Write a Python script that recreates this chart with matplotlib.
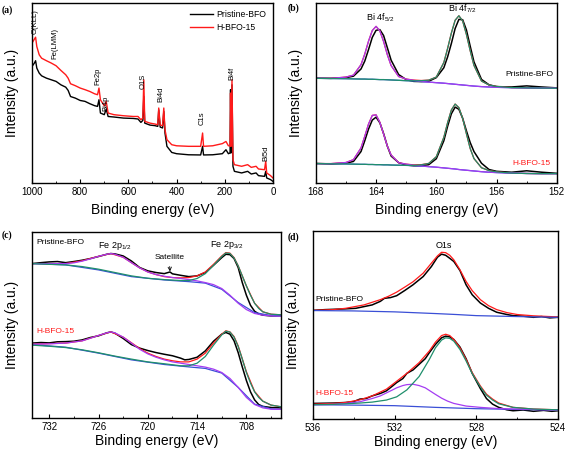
import numpy as np
import matplotlib
matplotlib.use('Agg')
import matplotlib.pyplot as plt
from matplotlib.ticker import MultipleLocator

plt.rcParams['font.family'] = ['Liberation Sans', 'DejaVu Sans']
plt.rcParams['mathtext.fontset'] = 'custom'
plt.rcParams['mathtext.rm'] = 'Liberation Sans'
plt.rcParams['mathtext.it'] = 'Liberation Sans'

C_BLACK = 'black'
C_RED = '#ff1a1a'
C_PURPLE = '#a43cf2'
C_GREEN = '#1f8f6c'
C_BLUE = '#3a4fd6'

# ---------------- (a) survey ----------------
a_x_pristine = [1000, 990, 985, 980, 970, 960, 940, 920, 900, 880, 860, 850, 840, 820, 800, 780, 760, 740, 728, 722,
                716, 700, 692, 684, 660, 620, 580, 560, 548, 540, 536, 532, 510, 490, 478, 474, 468, 458, 453, 448,
                440, 420, 400, 350, 300, 292, 288, 250, 210, 195, 185, 178, 176, 174, 170, 166, 160, 130, 105, 90,
                70, 60, 35, 30, 26, 10, 0]
a_y_pristine = [64.8, 66.7, 68.0, 63.9, 61.1, 59.6, 58.3, 57.4, 56.5, 54.6, 53.3, 51.5, 48.1, 47.2, 45.9, 45.4, 44.1, 43.0, 42.6, 46.3,
                38.9, 38.0, 41.1, 37.0, 36.7, 36.1, 35.9, 35.6, 33.7, 34.8, 48.1, 33.3, 32.2, 31.9, 31.5, 40.7, 31.1, 30.6, 39.8, 27.8,
                20.4, 17.0, 16.3, 15.7, 15.6, 20.4, 15.6, 15.7, 16.3, 18.5, 16.3, 16.7, 51.9, 16.7, 54.6, 9.3, 6.5, 5.6, 6.5, 5.0,
                5.6, 4.1, 3.7, 6.5, 2.8, 1.9, 0.9]
a_x_hbfo = a_x_pristine
a_y_hbfo = [77.8, 80.0, 81.1, 75.9, 71.3, 69.4, 68.0, 66.7, 65.2, 62.6, 60.2, 58.3, 55.2, 54.1, 52.8, 51.9, 50.9, 49.6, 49.1, 52.8,
            46.3, 42.9, 45.4, 38.9, 38.0, 37.4, 37.0, 37.0, 35.2, 36.1, 57.4, 34.3, 33.3, 32.8, 32.4, 41.7, 32.2, 31.9, 41.7, 29.6,
            24.1, 21.3, 20.7, 20.4, 20.4, 27.8, 20.4, 20.7, 21.9, 23.1, 20.7, 20.7, 50.0, 20.4, 57.4, 13.0, 10.2, 9.3, 10.2, 8.7,
            9.3, 7.8, 7.4, 12.0, 5.6, 4.1, 2.8]
a_labels = ['O(KLL)', 'Fe(LMM)', 'Fe2p', 'Bi4p', 'O1S', 'Bi4d', 'C1s', 'Bi4f', 'Bi5d']
a_label_x = [985, 905, 728, 692, 540, 466, 295, 170, 30]
a_label_y = [83, 69, 54.6, 40, 52, 45, 32, 57.4, 12]

# ---------------- (b) Bi 4f ----------------
b_x = [168, 167, 166, 165.5, 165, 164.75, 164.5, 164.25, 164, 163.75, 163.5, 163.25, 163, 162.5, 162, 161.5, 161,
       160.5, 160, 159.5, 159.25, 159, 158.75, 158.5, 158.25, 158, 157.75, 157.5, 157, 156.5, 156, 155, 154, 153, 152]
b_base_up = [58.2, 58.1, 58.0, 57.9, 57.8, 57.8, 57.7, 57.7, 57.6, 57.5, 57.5, 57.4, 57.3, 57.1, 56.9, 56.7, 56.4,
             56.1, 55.8, 55.5, 55.3, 55.1, 54.9, 54.7, 54.5, 54.3, 54.1, 53.9, 53.6, 53.4, 53.2, 53.0, 52.9, 52.8, 52.7]
b_p52_up = [0, 0.1, 0.9, 2.1, 8.0, 13.9, 21.2, 27.1, 29.5, 27.1, 21.2, 13.9, 8.0, 2.1, 0.9, 0.4, 0.1,
            0, 0, 0, 0, 0, 0, 0, 0, 0, 0, 0, 0, 0, 0, 0, 0, 0, 0]
b_p72_up = [0, 0, 0, 0, 0, 0, 0, 0, 0, 0, 0, 0, 0, 0, 0, 0.15, 0.5,
            1.1, 3.1, 11.5, 19.5, 28.3, 35.6, 38.3, 35.6, 28.3, 19.5, 11.5, 3.1, 1.1, 0.5, 0.05, 0, 0, 0]
b_data_up = [58.3, 58.2, 58.6, 59.4, 63.4, 67.8, 74.2, 81.0, 84.9, 85.3, 82.0, 75.2, 68.3, 60.3, 57.5, 56.5, 56.4,
             56.6, 58.6, 64.1, 70.1, 77.6, 85.9, 91.0, 90.8, 85.1, 76.1, 67.4, 57.6, 54.6, 53.6, 53.4, 54.0, 53.4, 52.9]
b_base_lo = [10.8, 10.7, 10.6, 10.5, 10.4, 10.4, 10.3, 10.3, 10.2, 10.2, 10.1, 10.1, 10.0, 9.9, 9.8, 9.6, 9.4,
             9.1, 8.8, 8.4, 8.2, 8.0, 7.8, 7.5, 7.3, 7.1, 6.9, 6.7, 6.3, 6.0, 5.8, 5.5, 5.3, 5.2, 5.2]
b_p52_lo = [0, 0.1, 0.8, 2.5, 9.1, 15.6, 22.5, 27.3, 27.7, 23.6, 17.1, 10.4, 5.6, 1.4, 0.7, 0.3, 0.1,
            0, 0, 0, 0, 0, 0, 0, 0, 0, 0, 0, 0, 0, 0, 0, 0, 0, 0]
b_p72_lo = [0, 0, 0, 0, 0, 0, 0, 0, 0, 0, 0, 0, 0, 0, 0, 0.2, 0.7,
            1.8, 5.8, 17.0, 25.3, 32.6, 36.1, 34.4, 28.6, 20.3, 12.3, 6.9, 2.2, 0.9, 0.4, 0, 0, 0, 0]
b_data_lo = [10.9, 10.6, 11.0, 12.0, 17.5, 23.5, 30.0, 35.0, 36.6, 33.5, 27.5, 20.5, 15.0, 11.3, 10.0, 9.6, 9.6,
             10.2, 13.5, 23.5, 31.5, 38.5, 42.2, 41.0, 36.0, 29.0, 22.5, 17.5, 11.0, 7.5, 6.5, 6.0, 6.8, 6.0, 5.4]

# ---------------- (c) Fe 2p ----------------
c_x_data_up = [734.1, 733, 732, 731, 730, 729, 728, 727, 726, 725, 724.5, 724, 723, 722, 721, 720, 719, 718, 717.3,
               717, 716, 715, 714, 713, 712, 711, 710.5, 710, 709.5, 709, 708.5, 708, 707.5, 707, 706.5, 706, 705, 703.8]
c_y_data_up = [83.0, 83.5, 83.9, 84.1, 83.5, 84.1, 84.8, 85.7, 86.8, 88.0, 88.4, 88.2, 87.1, 84.4, 80.9, 79.1, 78.2, 77.6, 78.5,
               77.5, 76.7, 76.0, 76.4, 78.2, 82.1, 86.2, 88.0, 87.8, 85.7, 80.9, 72.8, 66.0, 60.6, 57.4, 56.0, 55.3, 54.9, 54.9]
c_x_purple_up = [734.1, 732, 730, 729, 728, 727, 726, 725, 724.5, 724, 723, 722, 721, 720, 719, 718, 717, 716, 715, 714,
                 713, 712, 711, 710, 709, 708, 707, 706, 705, 703.8]
c_y_purple_up = [83.0, 83.0, 83.0, 83.4, 84.3, 85.5, 86.9, 88.0, 88.4, 88.0, 86.4, 83.5, 80.7, 78.5, 77.1, 76.2, 75.5, 75.0, 74.4, 73.7,
                 72.8, 71.7, 69.6, 66.0, 61.7, 58.3, 56.2, 55.3, 54.9, 54.7]
c_x_green_up = [734.1, 732, 730, 728, 726, 724, 722, 720, 718, 716, 715, 714, 713, 712, 711, 710.5, 710, 709.5, 709,
                708.5, 708, 707.5, 707, 706.5, 706, 705, 703.8]
c_y_green_up = [83.0, 82.6, 82.3, 81.4, 80.0, 78.2, 76.4, 75.1, 74.4, 73.9, 73.9, 75.0, 77.6, 82.1, 86.8, 88.7, 88.4, 86.0, 81.8,
                76.4, 71.0, 66.0, 61.7, 58.9, 57.1, 55.8, 55.5]
c_x_red_up = [734.1, 730, 728, 726, 724.5, 723, 722, 721, 720, 719, 718, 717, 716, 715, 714, 713, 712, 711, 710.5, 710,
              709.5, 709, 708, 707, 706, 705, 703.8]
c_y_red_up = [83.0, 83.0, 84.5, 86.9, 88.4, 86.4, 83.5, 80.7, 78.5, 77.1, 76.0, 75.5, 75.3, 75.5, 76.4, 78.5, 82.6, 87.1, 88.9, 88.6,
              86.2, 81.8, 71.0, 61.7, 57.1, 55.8, 55.5]
c_x_blue_up = [734.1, 730, 726, 722, 718, 715, 713, 711, 709, 707, 705, 703.8]
c_y_blue_up = [83.0, 82.3, 79.6, 76.0, 74.2, 73.3, 72.5, 69.2, 62.1, 56.7, 55.1, 54.9]

c_x_data_lo = [734.1, 733, 732, 731, 730, 729, 728, 727, 726, 725, 724.5, 724, 723, 722, 721, 720, 719, 718, 717, 716,
               715.5, 715, 714, 713, 712, 711, 710.5, 710, 709.5, 709, 708.5, 708, 707.5, 707, 706.5, 706, 705, 703.8]
c_y_data_lo = [40.3, 40.6, 40.4, 41.0, 41.1, 41.3, 42.0, 43.3, 44.2, 45.8, 46.3, 45.6, 42.8, 39.5, 37.6, 36.3, 35.2, 34.3, 33.5, 32.2,
               31.3, 31.5, 32.7, 36.1, 41.3, 45.1, 46.0, 45.1, 41.5, 35.2, 27.5, 20.2, 14.1, 9.8, 7.3, 6.3, 5.7, 5.5]
c_x_purple_lo = c_x_purple_up
c_y_purple_lo = [39.7, 39.9, 40.3, 40.9, 41.5, 42.9, 44.4, 45.8, 46.3, 45.8, 43.5, 40.3, 37.0, 34.5, 32.7, 31.3, 30.2, 29.5, 28.8, 28.1,
                 27.4, 26.3, 24.5, 21.3, 16.5, 11.1, 7.3, 5.5, 4.8, 4.7]
c_x_green_lo = [734.1, 732, 730, 728, 726, 724, 722, 720, 718, 716, 715, 714, 713, 712, 711, 710.5, 710, 709.5, 709,
                708.5, 708, 707.5, 707, 706.5, 706, 705, 703.8]
c_y_green_lo = [39.2, 38.6, 37.9, 36.7, 35.1, 33.3, 31.7, 30.2, 29.2, 28.1, 28.1, 29.5, 33.1, 39.2, 44.7, 46.7, 46.2, 43.5, 38.5,
                31.7, 24.5, 18.8, 14.1, 11.1, 9.1, 7.0, 6.1]
c_x_red_lo = [734.1, 730, 728, 726, 724.5, 723, 722, 721, 720, 719, 718, 717, 716, 715, 714, 713, 712, 711, 710.5, 710,
              709.5, 709, 708, 707, 706, 705, 703.8]
c_y_red_lo = [39.7, 40.3, 41.5, 44.4, 46.3, 43.5, 40.5, 37.4, 34.9, 33.1, 31.7, 30.8, 30.2, 30.2, 31.7, 34.9, 40.3, 45.1, 46.9, 46.3,
              43.8, 38.8, 24.9, 14.3, 9.1, 7.0, 6.1]
c_x_blue_lo = [734.1, 730, 726, 722, 718, 715, 713, 711, 709, 707, 705, 703.8]
c_y_blue_lo = [39.5, 38.1, 34.9, 31.3, 28.8, 27.5, 26.7, 24.2, 16.5, 7.5, 5.0, 4.7]

# ---------------- (d) O 1s ----------------
d_x_data_up = [536, 535.4, 534.4, 533.9, 533.5, 533.1, 532.7, 532.5, 532.2, 531.9, 531.5, 531.1, 530.6, 530.2, 529.9, 529.7,
               529.5, 529.3, 529.1, 528.8, 528.5, 528.2, 527.8, 527.4, 527.0, 526.5, 526.2, 525.7, 525.2, 524.8, 524.4, 524]
d_y_data_up = [57.8, 58.2, 58.6, 58.9, 59.8, 60.7, 62.6, 64.2, 64.6, 65.6, 68.4, 71.4, 75.8, 81.1, 86.1, 87.7,
               87.1, 85.5, 83.8, 79.0, 71.4, 66.1, 61.7, 58.9, 56.8, 55.6, 55.0, 54.7, 54.1, 54.5, 53.8, 54.1]
d_x_red_up = [536, 535, 534.4, 533.5, 532.7, 532.3, 531.9, 531.5, 531.1, 530.6, 530.2, 529.9, 529.7, 529.5, 529.3, 529.1,
              528.8, 528.5, 528.2, 527.8, 527.4, 527.0, 526.5, 526.0, 525.2, 524]
d_y_red_up = [57.8, 58.2, 58.9, 60.7, 63.5, 65.3, 67.5, 70.2, 73.0, 77.6, 82.9, 86.8, 88.7, 88.5, 87.1, 84.7,
              79.4, 73.2, 68.3, 63.5, 60.3, 58.2, 56.6, 55.6, 54.9, 54.3]
d_x_blue_up = [536, 534, 532, 530, 529, 528, 526, 524]
d_y_blue_up = [57.7, 57.5, 57.0, 56.1, 55.6, 55.0, 54.5, 54.1]

d_x_data_lo = [536, 535, 534.4, 534, 533.7, 533.4, 533.1, 532.7, 532.4, 532.1, 531.9, 531.6, 531.4, 531.1, 530.8, 530.5,
               530.3, 530.0, 529.7, 529.5, 529.3, 529.1, 528.8, 528.5, 528.2, 527.8, 527.5, 527.2, 526.9, 526.5, 526.2,
               525.7, 525.2, 524.7, 524.3, 524]
d_y_data_lo = [8.3, 8.5, 8.8, 9.3, 10.6, 10.9, 12.3, 13.6, 15.0, 17.6, 19.4, 21.5, 24.3, 26.1, 29.1, 32.1,
               35.3, 39.7, 43.2, 44.1, 43.7, 42.3, 38.3, 32.1, 24.3, 16.2, 10.9, 7.9, 6.2, 4.9, 4.4,
               4.8, 4.1, 4.6, 4.1, 4.4]
d_x_fit_lo = [536, 535, 534.4, 533.7, 533.1, 532.4, 531.9, 531.4, 530.8, 530.3, 530.0, 529.7, 529.5, 529.3, 529.1, 528.8,
              528.5, 528.2, 527.8, 527.5, 527.2, 526.9, 526.2, 525.2, 524]
d_y_red_lo = [7.9, 8.3, 8.8, 10.2, 12.3, 15.9, 20.1, 24.3, 30.0, 36.2, 40.9, 44.4, 45.1, 44.4, 42.3, 37.9,
              31.7, 24.7, 17.6, 13.2, 10.6, 8.5, 6.2, 5.3, 4.9]
d_y_green_lo = [7.6, 7.8, 8.1, 8.5, 9.0, 10.1, 11.8, 15.5, 22.6, 31.7, 37.9, 42.0, 43.2, 42.9, 41.4, 37.0,
                30.9, 24.2, 17.1, 12.7, 10.1, 8.1, 6.2, 5.3, 4.9]
d_x_purple_lo = [536, 535, 534.4, 533.7, 533.1, 532.7, 532.4, 532.1, 531.9, 531.6, 531.4, 531.1, 530.8, 530.5, 530.3, 530.0,
                 529.7, 529.4, 529.1, 528.8, 528.5, 527.8, 527, 526, 524]
d_y_purple_lo = [7.6, 7.8, 8.3, 9.2, 10.9, 12.3, 13.9, 15.5, 16.6, 17.8, 18.3, 18.5, 17.8, 16.6, 15.2, 13.1,
                 11.1, 9.5, 8.3, 7.6, 6.9, 6.2, 5.6, 5.3, 4.8]
d_x_blue_lo = [536, 534, 532, 530, 528, 526, 524]
d_y_blue_lo = [7.6, 7.4, 7.1, 6.2, 5.5, 5.1, 4.8]


def style_axis(ax, xlim, major, minor, xpad=4):
    ax.set_xlim(xlim)
    ax.set_ylim(0, 100)
    ax.set_yticks([])
    ax.xaxis.set_major_locator(MultipleLocator(major))
    ax.xaxis.set_minor_locator(MultipleLocator(minor))
    ax.tick_params(axis='x', which='major', direction='in', length=3, width=0.8, labelsize=7, pad=3)
    ax.tick_params(axis='x', which='minor', direction='in', length=1.6, width=0.6)
    for s in ax.spines.values():
        s.set_linewidth(1.0)
    ax.set_xlabel('Binding energy (eV)', fontsize=10, labelpad=xpad)
    ax.set_ylabel('Intensity (a.u.)', fontsize=10, labelpad=9)


fig = plt.figure(figsize=(5.67, 4.53), dpi=100)
ax_a = fig.add_axes([0.0564, 0.596, 0.425, 0.397])
ax_b = fig.add_axes([0.557, 0.596, 0.425, 0.397])
ax_c = fig.add_axes([0.0564, 0.077, 0.439, 0.411])
ax_d = fig.add_axes([0.552, 0.075, 0.432, 0.415])

# (a)
ax_a.plot(a_x_pristine, a_y_pristine, color=C_BLACK, lw=1.0, label='Pristine-BFO')
ax_a.plot(a_x_hbfo, a_y_hbfo, color=C_RED, lw=1.0, label='H-BFO-15')
for t, x, y in zip(a_labels, a_label_x, a_label_y):
    ax_a.text(x, y, t, rotation=90, ha='center', va='bottom', fontsize=5.5)
style_axis(ax_a, (1000, 0), 200, 100)
ax_a.legend(loc='upper right', frameon=False, fontsize=6.2, handlelength=2.6, borderaxespad=0.4,
            labelspacing=0.5, handletextpad=0.4)

# (b)
b_base_up = np.array(b_base_up)
b_base_lo = np.array(b_base_lo)
for base, p52, p72, data in [(b_base_up, b_p52_up, b_p72_up, b_data_up),
                             (b_base_lo, b_p52_lo, b_p72_lo, b_data_lo)]:
    p52 = np.array(p52)
    p72 = np.array(p72)
    ax_b.plot(b_x, data, color=C_BLACK, lw=1.1)
    ax_b.plot(b_x, base + p52 + p72, color=C_RED, lw=0.9)
    ax_b.plot(b_x, base, color=C_BLUE, lw=0.9)
    ax_b.plot(b_x, base + p52, color=C_PURPLE, lw=0.9)
    ax_b.plot(b_x, base + p72, color=C_GREEN, lw=0.9)
ax_b.text(163.7, 88.5, 'Bi 4f$_{5/2}$', ha='center', va='bottom', fontsize=6.5)
ax_b.text(158.3, 93.5, 'Bi 4f$_{7/2}$', ha='center', va='bottom', fontsize=6.5)
ax_b.text(152.2, 60.5, 'Pristine-BFO', ha='right', va='center', fontsize=6)
ax_b.text(152.4, 10.8, 'H-BFO-15', ha='right', va='center', fontsize=6, color=C_RED)
style_axis(ax_b, (168, 152), 4, 2)

# (c)
ax_c.plot(c_x_data_up, c_y_data_up, color=C_BLACK, lw=1.1)
ax_c.plot(c_x_red_up, c_y_red_up, color=C_RED, lw=0.9)
ax_c.plot(c_x_blue_up, c_y_blue_up, color=C_BLUE, lw=0.9)
ax_c.plot(c_x_purple_up, c_y_purple_up, color=C_PURPLE, lw=0.9)
ax_c.plot(c_x_green_up, c_y_green_up, color=C_GREEN, lw=0.9)
ax_c.plot(c_x_data_lo, c_y_data_lo, color=C_BLACK, lw=1.1)
ax_c.plot(c_x_red_lo, c_y_red_lo, color=C_RED, lw=0.9)
ax_c.plot(c_x_blue_lo, c_y_blue_lo, color=C_BLUE, lw=0.9)
ax_c.plot(c_x_purple_lo, c_y_purple_lo, color=C_PURPLE, lw=0.9)
ax_c.plot(c_x_green_lo, c_y_green_lo, color=C_GREEN, lw=0.9)
ax_c.text(733.6, 94.5, 'Pristine-BFO', ha='left', va='center', fontsize=6)
ax_c.text(733.6, 46.5, 'H-BFO-15', ha='left', va='center', fontsize=6, color=C_RED)
ax_c.text(724.0, 92.5, 'Fe 2p$_{1/2}$', ha='center', va='center', fontsize=6.5)
ax_c.text(710.4, 93.2, 'Fe 2p$_{3/2}$', ha='center', va='center', fontsize=6.5)
ax_c.annotate('Satellite', xy=(717.3, 78.8), xytext=(717.4, 86.3), ha='center', va='center', fontsize=6,
              arrowprops=dict(arrowstyle='->', lw=0.6, color='black', shrinkA=2, shrinkB=0))
style_axis(ax_c, (734.1, 703.8), 6, 3, xpad=1)

# (d)
ax_d.plot(d_x_data_up, d_y_data_up, color=C_BLACK, lw=1.1)
ax_d.plot(d_x_red_up, d_y_red_up, color=C_RED, lw=0.9)
ax_d.plot(d_x_blue_up, d_y_blue_up, color=C_BLUE, lw=0.9)
ax_d.plot(d_x_data_lo, d_y_data_lo, color=C_BLACK, lw=1.1)
ax_d.plot(d_x_fit_lo, d_y_red_lo, color=C_RED, lw=0.9)
ax_d.plot(d_x_blue_lo, d_y_blue_lo, color=C_BLUE, lw=0.9)
ax_d.plot(d_x_purple_lo, d_y_purple_lo, color=C_PURPLE, lw=0.9)
ax_d.plot(d_x_fit_lo, d_y_green_lo, color=C_GREEN, lw=0.9)
ax_d.text(529.6, 92.5, 'O1s', ha='center', va='center', fontsize=6.5)
ax_d.text(535.9, 63.5, 'Pristine-BFO', ha='left', va='center', fontsize=6)
ax_d.text(535.9, 13.8, 'H-BFO-15', ha='left', va='center', fontsize=6, color=C_RED)
style_axis(ax_d, (536, 524), 4, 2, xpad=1)

# panel letters
for lab, x, y in [('(a)', 7, 10), ('(b)', 293, 8), ('(c)', 7, 235), ('(d)', 293, 237)]:
    fig.text(x / 567, 1 - y / 453, lab, fontsize=7, fontweight='bold', family='Liberation Serif',
             ha='center', va='center')

plt.savefig('out.png', dpi=100)
